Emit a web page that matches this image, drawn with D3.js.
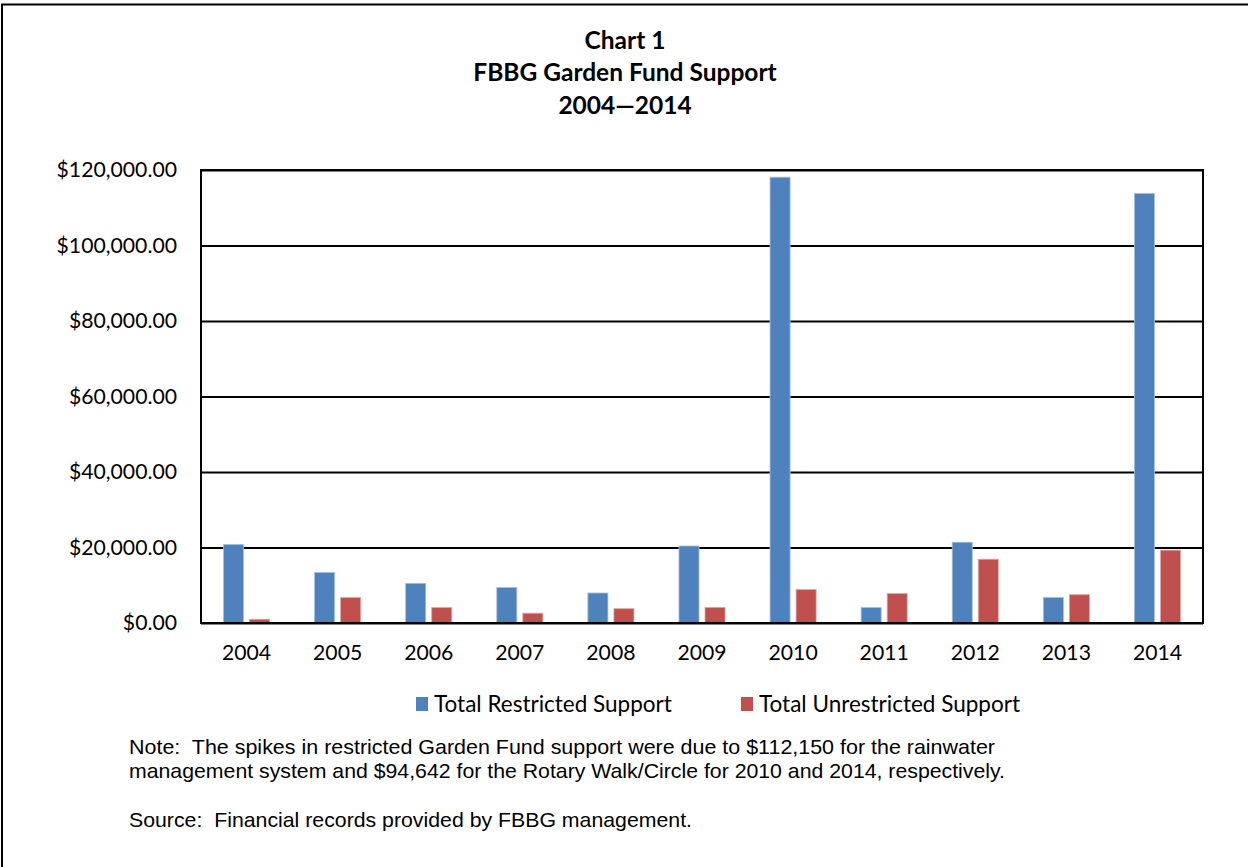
<!DOCTYPE html>
<html>
<head>
<meta charset="utf-8">
<script src="https://cdn.jsdelivr.net/npm/d3@7"></script>
<style>
  html, body { margin: 0; padding: 0; background: #fff; }
  svg { display: block; }
  svg text { white-space: pre; }
</style>
</head>
<body>
<svg id="chart" width="1248" height="867"></svg>
<script>
// Garden Fund support by year, 2004–2014
const years = ["2004","2005","2006","2007","2008","2009","2010","2011","2012","2013","2014"];
const restricted   = [20800, 13400, 10500, 9400, 7950, 20400, 118100, 4100, 21400, 6750, 113800];
const unrestricted = [1000, 6750, 4100, 2600, 3800, 4150, 8850, 7800, 16900, 7500, 19300];
const seriesNames  = ["Total Restricted Support", "Total Unrestricted Support"];
const seriesColors = ["#4F81BD", "#C0504D"];
const yTicks = [0, 20000, 40000, 60000, 80000, 100000, 120000];
const titleLines = ["Chart 1", "FBBG Garden Fund Support", "2004\u20142014"];
const noteLines = [
  "Note:  The spikes in restricted Garden Fund support were due to $112,150 for the rainwater",
  "management system and $94,642 for the Rotary Walk/Circle for 2010 and 2014, respectively."
];
const sourceLine = "Source:  Financial records provided by FBBG management.";

const svg = d3.select("#chart");
const W = 1248, H = 867;
const plot = { left: 201, right: 1203, top: 170, bottom: 623 };
const sansUI = "Lato, 'Open Sans', sans-serif";
const sansNote = "'Liberation Sans', Arial, sans-serif";

// outer frame
svg.append("rect")
  .attr("x", 2).attr("y", 4.5)
  .attr("width", W + 10).attr("height", H + 10)
  .attr("fill", "#fff").attr("stroke", "#000").attr("stroke-width", 2);

// title
svg.append("g").selectAll("text")
  .data(titleLines).join("text")
  .attr("x", 625)
  .attr("y", (d, i) => 48.5 + i * 32.5)
  .attr("text-anchor", "middle")
  .attr("font-family", sansUI)
  .attr("font-weight", "bold")
  .attr("font-size", 24.5)
  .attr("fill", "#000")
  .text(d => d);

// scales
const x0 = d3.scaleBand().domain(years)
  .range([plot.left, plot.right])
  .paddingInner(0.494).paddingOuter(0.247);
const x1 = d3.scaleBand().domain([0, 1])
  .range([0, x0.bandwidth()])
  .paddingInner(0.23);
const y = d3.scaleLinear().domain([0, 120000]).range([plot.bottom, plot.top]);

// gridlines + y labels
const yAxis = d3.axisLeft(y)
  .tickValues(yTicks)
  .tickSize(-(plot.right - plot.left))
  .tickPadding(24)
  .tickFormat(d => "$" + d3.format(",.2f")(d));
const gy = svg.append("g")
  .attr("transform", `translate(${plot.left},0)`)
  .call(yAxis);
gy.select(".domain").remove();
gy.selectAll(".tick line").attr("stroke", "#000").attr("stroke-width", 2);
gy.selectAll(".tick text")
  .attr("font-family", sansUI)
  .attr("font-size", 21.2)
  .attr("fill", "#000");

// bars
const rows = years.map((yr, i) => ({ yr, vals: [restricted[i], unrestricted[i]] }));
const groups = svg.append("g").selectAll("g")
  .data(rows).join("g")
  .attr("transform", d => `translate(${x0(d.yr)},0)`);
groups.selectAll("rect")
  .data(d => d.vals.map((v, k) => ({ v, k })))
  .join("rect")
  .attr("x", d => x1(d.k))
  .attr("width", x1.bandwidth())
  .attr("y", d => y(d.v))
  .attr("height", d => y(0) - y(d.v))
  .attr("fill", d => seriesColors[d.k])
  .attr("stroke", d => d.k === 0 ? "#a7c0de" : "#e0a8a6")
  .attr("stroke-width", 0.8);

// x axis labels
const xAxis = d3.axisBottom(x0).tickSize(0).tickPadding(22);
const gx = svg.append("g")
  .attr("transform", `translate(0,${plot.bottom})`)
  .call(xAxis);
gx.select(".domain").remove();
gx.selectAll(".tick text")
  .attr("font-family", sansUI)
  .attr("font-size", 21.2)
  .attr("fill", "#000");

// plot frame
svg.append("rect")
  .attr("x", plot.left).attr("y", plot.top)
  .attr("width", plot.right - plot.left)
  .attr("height", plot.bottom - plot.top)
  .attr("fill", "none").attr("stroke", "#000").attr("stroke-width", 2);

// legend
const legendX = [416, 741];
const lg = svg.append("g").selectAll("g")
  .data(seriesNames).join("g")
  .attr("transform", (d, i) => `translate(${legendX[i]},697)`);
lg.append("rect")
  .attr("width", 12).attr("height", 14)
  .attr("fill", (d, i) => seriesColors[i]);
lg.append("text")
  .attr("x", 18).attr("y", 14.5)
  .attr("font-family", sansUI)
  .attr("font-size", 22.5)
  .attr("fill", "#000")
  .text(d => d);

// note and source
const noteWidths = [866, 876];
svg.append("g").selectAll("text")
  .data(noteLines).join("text")
  .attr("x", 129)
  .attr("y", (d, i) => 753.5 + i * 24)
  .attr("font-family", sansNote)
  .attr("font-size", 20.6)
  .attr("textLength", (d, i) => noteWidths[i])
  .attr("lengthAdjust", "spacingAndGlyphs")
  .attr("fill", "#000")
  .text(d => d);
svg.append("text")
  .attr("x", 129).attr("y", 826.5)
  .attr("font-family", sansNote)
  .attr("font-size", 20.6)
  .attr("textLength", 563)
  .attr("lengthAdjust", "spacingAndGlyphs")
  .attr("fill", "#000")
  .text(sourceLine);
</script>
</body>
</html>
